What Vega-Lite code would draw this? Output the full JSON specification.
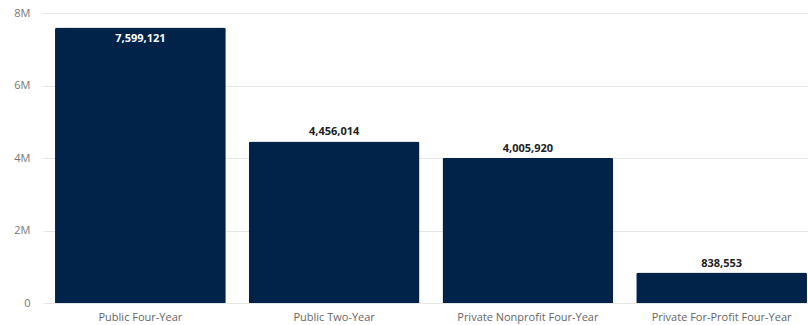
{
  "$schema": "https://vega.github.io/schema/vega-lite/v6.json",
  "width": 765,
  "height": 290,
  "padding": {"left": 43, "top": 13, "right": 0, "bottom": 22},
  "autosize": {"type": "none"},
  "background": "white",
  "config": {"view": {"stroke": null}, "font": "Open Sans"},
  "data": {"values": [
    {"sector": "Public Four-Year", "enrollment": 7599121},
    {"sector": "Public Two-Year", "enrollment": 4456014},
    {"sector": "Private Nonprofit Four-Year", "enrollment": 4005920},
    {"sector": "Private For-Profit Four-Year", "enrollment": 838553}
  ]},
  "encoding": {
    "x": {"field": "sector", "type": "nominal", "sort": null,
      "scale": {"range": [0, 776], "paddingInner": 0.1186, "paddingOuter": 0.062},
      "axis": {"title": null, "labelAngle": 0, "labelColor": "#666", "labelFontSize": 11, "ticks": false, "domain": false, "labelPadding": 8}},
    "y": {"field": "enrollment", "type": "quantitative",
      "scale": {"domain": [0, 8000000]},
      "axis": {"title": null, "format": "~s", "values": [0, 2000000, 4000000, 6000000, 8000000], "labelColor": "#777", "labelFontSize": 11, "gridColor": "#e6e6e6", "domain": false, "ticks": false, "labelPadding": 13, "labelExpr": "datum.value == 0 ? '0' : datum.label"}}
  },
  "layer": [
    {"mark": {"type": "bar", "color": "#012349", "cornerRadiusTopLeft": 2, "cornerRadiusTopRight": 2, "clip": false}},
    {"transform": [{"filter": "datum.enrollment < 7000000"}],
     "mark": {"type": "text", "baseline": "bottom", "dy": -4, "fontWeight": "bold", "fontSize": 11, "color": "#222"},
     "encoding": {"text": {"field": "enrollment", "type": "quantitative", "format": ","}}},
    {"transform": [{"filter": "datum.enrollment >= 7000000"}],
     "mark": {"type": "text", "baseline": "top", "dy": 5, "fontWeight": "bold", "fontSize": 11, "color": "white"},
     "encoding": {"text": {"field": "enrollment", "type": "quantitative", "format": ","}}}
  ]
}
